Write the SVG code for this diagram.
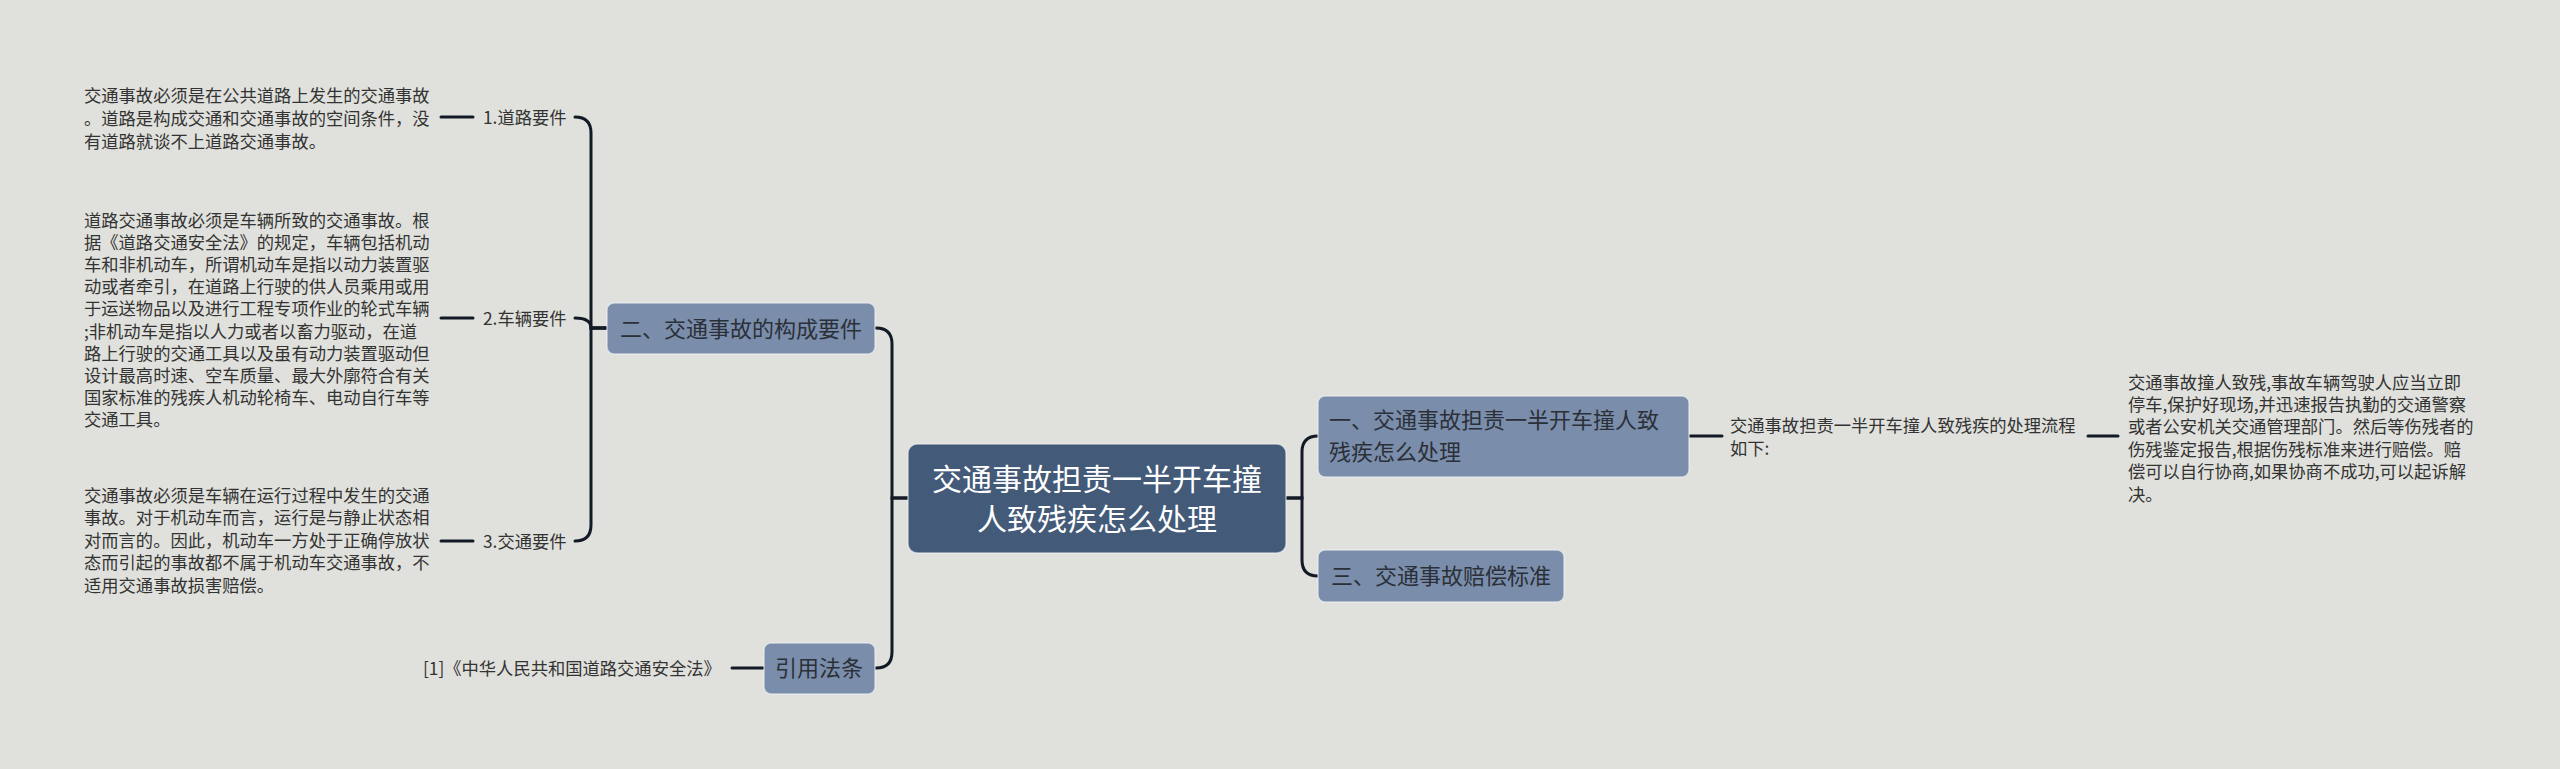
<svg xmlns="http://www.w3.org/2000/svg" width="2560" height="769" viewBox="0 0 2560 769">
<defs>
<style>
.bg{fill:#e0e1dc}
.root{fill:#435a78;stroke:#f2f4f7;stroke-opacity:.6;stroke-width:1.5}
.sub{fill:#7a8dab;stroke:#f2f4f7;stroke-opacity:.6;stroke-width:1.5}
.t{font-family:"Noto Sans CJK SC","Noto Sans",sans-serif}
.rt{font-size:30px;fill:#ffffff;text-anchor:middle}
.st{font-size:22px;fill:#2b3038}
.lt{font-size:17.3px;fill:#333333}
.c{fill:none;stroke:#121a26;stroke-width:3;stroke-linecap:round}
</style>
</defs>
<rect class="bg" x="0" y="0" width="2560" height="769"/>
<g id="connectors">
<path class="c" d="M908,498 H892 V344 Q892,328 876,328"/>
<path class="c" d="M908,498 H892 V652 Q892,668 876,668"/>
<path class="c" d="M1286,498 H1302 V452 Q1302,436 1318,436"/>
<path class="c" d="M1286,498 H1302 V560 Q1302,576 1318,576"/>
<path class="c" d="M607,328 H591 V133 Q591,117 575,117"/>
<path class="c" d="M607,328 H591 Q591,318 575,318"/>
<path class="c" d="M607,328 H591 V525 Q591,541 575,541"/>
<path class="c" d="M441,117 H473"/>
<path class="c" d="M441,318 H473"/>
<path class="c" d="M441,541 H473"/>
<path class="c" d="M732,668 H763"/>
<path class="c" d="M1690,436 H1722"/>
<path class="c" d="M2088,436 H2118"/>
</g>
<g id="root">
<rect class="root" x="908" y="444" width="378" height="109" rx="9"/>
<text class="t rt" x="1097" y="490"><tspan x="1097" y="490">交通事故担责一半开车撞</tspan><tspan x="1097" y="530">人致残疾怎么处理</tspan></text>
</g>
<g id="node-2">
<rect class="sub" x="607" y="303" width="268" height="51" rx="7"/>
<text class="t st" x="741" y="337" text-anchor="middle">二、交通事故的构成要件</text>
</g>
<g id="node-ref">
<rect class="sub" x="764" y="643" width="111" height="51" rx="7"/>
<text class="t st" x="819" y="676" text-anchor="middle">引用法条</text>
</g>
<g id="node-1">
<rect class="sub" x="1318" y="396" width="371" height="81" rx="7"/>
<text class="t st" x="1329" y="428"><tspan x="1329" y="428">一、交通事故担责一半开车撞人致</tspan><tspan x="1329" y="460">残疾怎么处理</tspan></text>
</g>
<g id="node-3">
<rect class="sub" x="1318" y="550" width="246" height="52" rx="7"/>
<text class="t st" x="1441" y="584" text-anchor="middle">三、交通事故赔偿标准</text>
</g>
<g id="label-1">
<text class="t lt" x="483" y="123.6">1.道路要件</text>
</g>
<g id="label-2">
<text class="t lt" x="483" y="324.6">2.车辆要件</text>
</g>
<g id="label-3">
<text class="t lt" x="483" y="547.6">3.交通要件</text>
</g>
<g id="text-1">
<text class="t lt" x="84" y="102">交通事故必须是在公共道路上发生的交通事故</text>
<text class="t lt" x="84" y="124.8">。道路是构成交通和交通事故的空间条件，没</text>
<text class="t lt" x="84" y="147.6">有道路就谈不上道路交通事故。</text>
</g>
<g id="text-2">
<text class="t lt" x="84" y="226.6">道路交通事故必须是车辆所致的交通事故。根</text>
<text class="t lt" x="84" y="248.8">据《道路交通安全法》的规定，车辆包括机动</text>
<text class="t lt" x="84" y="271">车和非机动车，所谓机动车是指以动力装置驱</text>
<text class="t lt" x="84" y="293.2">动或者牵引，在道路上行驶的供人员乘用或用</text>
<text class="t lt" x="84" y="315.4">于运送物品以及进行工程专项作业的轮式车辆</text>
<text class="t lt" x="84" y="337.6">;非机动车是指以人力或者以畜力驱动，在道</text>
<text class="t lt" x="84" y="359.8">路上行驶的交通工具以及虽有动力装置驱动但</text>
<text class="t lt" x="84" y="382">设计最高时速、空车质量、最大外廓符合有关</text>
<text class="t lt" x="84" y="404.2">国家标准的残疾人机动轮椅车、电动自行车等</text>
<text class="t lt" x="84" y="426.4">交通工具。</text>
</g>
<g id="text-3">
<text class="t lt" x="84" y="501.6">交通事故必须是车辆在运行过程中发生的交通</text>
<text class="t lt" x="84" y="524.1">事故。对于机动车而言，运行是与静止状态相</text>
<text class="t lt" x="84" y="546.6">对而言的。因此，机动车一方处于正确停放状</text>
<text class="t lt" x="84" y="569.1">态而引起的事故都不属于机动车交通事故，不</text>
<text class="t lt" x="84" y="591.6">适用交通事故损害赔偿。</text>
</g>
<g id="text-ref">
<text class="t lt" x="423" y="674.6">[1]《中华人民共和国道路交通安全法》</text>
</g>
<g id="text-flow">
<text class="t lt" x="1730" y="431.6">交通事故担责一半开车撞人致残疾的处理流程</text>
<text class="t lt" x="1730" y="454.6">如下:</text>
</g>
<g id="text-detail">
<text class="t lt" x="2128" y="388.6">交通事故撞人致残,事故车辆驾驶人应当立即</text>
<text class="t lt" x="2128" y="411">停车,保护好现场,并迅速报告执勤的交通警察</text>
<text class="t lt" x="2128" y="433.4">或者公安机关交通管理部门。然后等伤残者的</text>
<text class="t lt" x="2128" y="455.8">伤残鉴定报告,根据伤残标准来进行赔偿。赔</text>
<text class="t lt" x="2128" y="478.2">偿可以自行协商,如果协商不成功,可以起诉解</text>
<text class="t lt" x="2128" y="500.6">决。</text>
</g>
</svg>
